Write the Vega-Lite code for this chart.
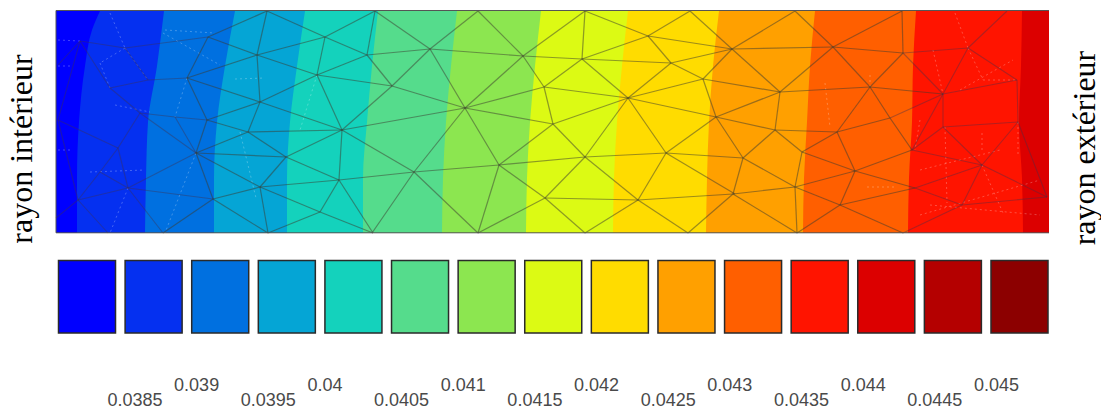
{
"$schema":"https://vega.github.io/schema/vega-lite/v6.json",
"width":1101,"height":419,
"autosize":{"type":"fit","contains":"padding"},
"padding":0,
"background":"white",
"config":{"view":{"stroke":null}},
"datasets":{
"bands":[
{"level":0.038,"z":11,"r":56,"end":1049},{"level":0.038,"z":233,"r":56,"end":1049},
{"level":0.0385,"z":11,"r":100,"end":1049},{"level":0.0385,"z":30,"r":92,"end":1049},{"level":0.0385,"z":66,"r":85,"end":1049},{"level":0.0385,"z":122,"r":79,"end":1049},{"level":0.0385,"z":178,"r":77,"end":1049},{"level":0.0385,"z":233,"r":77,"end":1049},
{"level":0.039,"z":11,"r":164,"end":1049},{"level":0.039,"z":66,"r":157,"end":1049},{"level":0.039,"z":122,"r":148,"end":1049},{"level":0.039,"z":178,"r":146,"end":1049},{"level":0.039,"z":233,"r":145,"end":1049},
{"level":0.0395,"z":11,"r":235,"end":1049},{"level":0.0395,"z":66,"r":225,"end":1049},{"level":0.0395,"z":122,"r":217,"end":1049},{"level":0.0395,"z":178,"r":214,"end":1049},{"level":0.0395,"z":233,"r":214,"end":1049},
{"level":0.04,"z":11,"r":305,"end":1049},{"level":0.04,"z":66,"r":297,"end":1049},{"level":0.04,"z":122,"r":290,"end":1049},{"level":0.04,"z":178,"r":287,"end":1049},{"level":0.04,"z":233,"r":287,"end":1049},
{"level":0.0405,"z":11,"r":378,"end":1049},{"level":0.0405,"z":66,"r":372,"end":1049},{"level":0.0405,"z":122,"r":367,"end":1049},{"level":0.0405,"z":178,"r":363,"end":1049},{"level":0.0405,"z":233,"r":363,"end":1049},
{"level":0.041,"z":11,"r":457,"end":1049},{"level":0.041,"z":66,"r":451,"end":1049},{"level":0.041,"z":122,"r":446,"end":1049},{"level":0.041,"z":178,"r":443,"end":1049},{"level":0.041,"z":233,"r":442,"end":1049},
{"level":0.0415,"z":11,"r":541,"end":1049},{"level":0.0415,"z":66,"r":535,"end":1049},{"level":0.0415,"z":122,"r":530,"end":1049},{"level":0.0415,"z":178,"r":527,"end":1049},{"level":0.0415,"z":233,"r":526,"end":1049},
{"level":0.042,"z":11,"r":628,"end":1049},{"level":0.042,"z":66,"r":622,"end":1049},{"level":0.042,"z":122,"r":617,"end":1049},{"level":0.042,"z":178,"r":614,"end":1049},{"level":0.042,"z":233,"r":613,"end":1049},
{"level":0.0425,"z":11,"r":719,"end":1049},{"level":0.0425,"z":66,"r":713,"end":1049},{"level":0.0425,"z":122,"r":709,"end":1049},{"level":0.0425,"z":178,"r":707,"end":1049},{"level":0.0425,"z":233,"r":706,"end":1049},
{"level":0.043,"z":11,"r":815,"end":1049},{"level":0.043,"z":66,"r":810,"end":1049},{"level":0.043,"z":122,"r":807,"end":1049},{"level":0.043,"z":178,"r":804,"end":1049},{"level":0.043,"z":233,"r":803,"end":1049},
{"level":0.0435,"z":11,"r":916,"end":1049},{"level":0.0435,"z":66,"r":913,"end":1049},{"level":0.0435,"z":122,"r":912,"end":1049},{"level":0.0435,"z":178,"r":909,"end":1049},{"level":0.0435,"z":233,"r":908,"end":1049},
{"level":0.044,"z":11,"r":1022,"end":1049},{"level":0.044,"z":66,"r":1021,"end":1049},{"level":0.044,"z":122,"r":1019,"end":1049},{"level":0.044,"z":178,"r":1022,"end":1049},{"level":0.044,"z":233,"r":1023,"end":1049}
],
"mesh":[
{"r":267,"z":11,"r2":257,"z2":55},{"r":267,"z":11,"r2":208,"z2":37},{"r":267,"z":11,"r2":325,"z2":37},{"r":325,"z":37,"r2":375,"z2":11},{"r":325,"z":37,"r2":257,"z2":55},{"r":325,"z":37,"r2":367,"z2":55},{"r":325,"z":37,"r2":317,"z2":75},{"r":367,"z":55,"r2":375,"z2":11},{"r":367,"z":55,"r2":392,"z2":86},{"r":367,"z":55,"r2":430,"z2":49},{"r":367,"z":55,"r2":317,"z2":75},{"r":375,"z":11,"r2":430,"z2":49},{"r":430,"z":49,"r2":478,"z2":11},{"r":430,"z":49,"r2":392,"z2":86},{"r":430,"z":49,"r2":465,"z2":108},{"r":430,"z":49,"r2":523,"z2":56},{"r":392,"z":86,"r2":465,"z2":108},{"r":392,"z":86,"r2":317,"z2":75},{"r":392,"z":86,"r2":342,"z2":130},{"r":478,"z":11,"r2":523,"z2":56},{"r":523,"z":56,"r2":465,"z2":108},{"r":523,"z":56,"r2":585,"z2":11},{"r":523,"z":56,"r2":582,"z2":59},{"r":523,"z":56,"r2":544,"z2":87},{"r":582,"z":59,"r2":585,"z2":11},{"r":582,"z":59,"r2":544,"z2":87},{"r":582,"z":59,"r2":648,"z2":36},{"r":582,"z":59,"r2":628,"z2":98},{"r":582,"z":59,"r2":671,"z2":63},{"r":585,"z":11,"r2":648,"z2":36},{"r":648,"z":36,"r2":690,"z2":11},{"r":648,"z":36,"r2":671,"z2":63},{"r":648,"z":36,"r2":732,"z2":49},{"r":690,"z":11,"r2":732,"z2":49},{"r":671,"z":63,"r2":732,"z2":49},{"r":671,"z":63,"r2":628,"z2":98},{"r":671,"z":63,"r2":703,"z2":79},{"r":732,"z":49,"r2":703,"z2":79},{"r":703,"z":79,"r2":628,"z2":98},{"r":703,"z":79,"r2":716,"z2":117},{"r":628,"z":98,"r2":544,"z2":87},{"r":628,"z":98,"r2":553,"z2":124},{"r":628,"z":98,"r2":716,"z2":117},{"r":628,"z":98,"r2":585,"z2":157},{"r":628,"z":98,"r2":666,"z2":153},{"r":465,"z":108,"r2":544,"z2":87},{"r":465,"z":108,"r2":553,"z2":124},{"r":465,"z":108,"r2":342,"z2":130},{"r":465,"z":108,"r2":414,"z2":172},{"r":465,"z":108,"r2":499,"z2":165},{"r":544,"z":87,"r2":553,"z2":124},{"r":553,"z":124,"r2":499,"z2":165},{"r":553,"z":124,"r2":585,"z2":157},{"r":585,"z":157,"r2":499,"z2":165},{"r":585,"z":157,"r2":545,"z2":198},{"r":585,"z":157,"r2":666,"z2":153},{"r":585,"z":157,"r2":638,"z2":200},{"r":666,"z":153,"r2":716,"z2":117},{"r":666,"z":153,"r2":638,"z2":200},{"r":666,"z":153,"r2":735,"z2":194},{"r":666,"z":153,"r2":743,"z2":158},{"r":716,"z":117,"r2":780,"z2":92},{"r":716,"z":117,"r2":775,"z2":130},{"r":716,"z":117,"r2":743,"z2":158},{"r":732,"z":49,"r2":833,"z2":47},{"r":732,"z":49,"r2":780,"z2":92},{"r":703,"z":79,"r2":780,"z2":92},{"r":732,"z":49,"r2":795,"z2":11},{"r":795,"z":11,"r2":833,"z2":47},{"r":833,"z":47,"r2":902,"z2":11},{"r":833,"z":47,"r2":780,"z2":92},{"r":833,"z":47,"r2":870,"z2":87},{"r":833,"z":47,"r2":903,"z2":53},{"r":902,"z":11,"r2":903,"z2":53},{"r":903,"z":53,"r2":870,"z2":87},{"r":780,"z":92,"r2":870,"z2":87},{"r":780,"z":92,"r2":775,"z2":130},{"r":870,"z":87,"r2":943,"z2":94},{"r":870,"z":87,"r2":837,"z2":132},{"r":870,"z":87,"r2":890,"z2":118},{"r":775,"z":130,"r2":837,"z2":132},{"r":775,"z":130,"r2":743,"z2":158},{"r":775,"z":130,"r2":802,"z2":152},{"r":837,"z":132,"r2":802,"z2":152},{"r":837,"z":132,"r2":855,"z2":171},{"r":837,"z":132,"r2":890,"z2":118},{"r":890,"z":118,"r2":912,"z2":150},{"r":855,"z":171,"r2":912,"z2":150},{"r":855,"z":171,"r2":802,"z2":152},{"r":855,"z":171,"r2":795,"z2":187},{"r":855,"z":171,"r2":840,"z2":205},{"r":802,"z":152,"r2":795,"z2":187},{"r":795,"z":187,"r2":797,"z2":233},{"r":795,"z":187,"r2":733,"z2":194},{"r":743,"z":158,"r2":733,"z2":194},{"r":743,"z":158,"r2":795,"z2":187},{"r":733,"z":194,"r2":638,"z2":200},{"r":733,"z":194,"r2":688,"z2":233},{"r":638,"z":200,"r2":688,"z2":233},{"r":638,"z":200,"r2":585,"z2":233},{"r":638,"z":200,"r2":545,"z2":198},{"r":545,"z":198,"r2":585,"z2":233},{"r":545,"z":198,"r2":499,"z2":165},{"r":545,"z":198,"r2":478,"z2":233},{"r":499,"z":165,"r2":478,"z2":233},{"r":499,"z":165,"r2":414,"z2":172},{"r":414,"z":172,"r2":478,"z2":233},{"r":414,"z":172,"r2":372,"z2":233},{"r":414,"z":172,"r2":339,"z2":180},{"r":414,"z":172,"r2":342,"z2":130},{"r":795,"z":187,"r2":840,"z2":205},{"r":840,"z":205,"r2":797,"z2":233},{"r":840,"z":205,"r2":903,"z2":233},{"r":840,"z":205,"r2":915,"z2":188},{"r":855,"z":171,"r2":915,"z2":188},{"r":733,"z":194,"r2":797,"z2":233},{"r":342,"z":130,"r2":339,"z2":180},{"r":342,"z":130,"r2":317,"z2":75},{"r":342,"z":130,"r2":286,"z2":157},{"r":342,"z":130,"r2":260,"z2":102},{"r":342,"z":130,"r2":248,"z2":132},{"r":339,"z":180,"r2":286,"z2":157},{"r":339,"z":180,"r2":260,"z2":187},{"r":339,"z":180,"r2":320,"z2":212},{"r":339,"z":180,"r2":373,"z2":233},{"r":320,"z":212,"r2":260,"z2":187},{"r":320,"z":212,"r2":268,"z2":233},{"r":320,"z":212,"r2":373,"z2":233},{"r":286,"z":157,"r2":260,"z2":187},{"r":286,"z":157,"r2":248,"z2":132},{"r":286,"z":157,"r2":196,"z2":153},{"r":260,"z":187,"r2":268,"z2":233},{"r":260,"z":187,"r2":213,"z2":199},{"r":260,"z":187,"r2":196,"z2":153},{"r":213,"z":199,"r2":268,"z2":233},{"r":213,"z":199,"r2":163,"z2":233},{"r":213,"z":199,"r2":196,"z2":153},{"r":248,"z":132,"r2":196,"z2":153},{"r":248,"z":132,"r2":260,"z2":102},{"r":248,"z":132,"r2":207,"z2":120},{"r":260,"z":102,"r2":257,"z2":55},{"r":260,"z":102,"r2":317,"z2":75},{"r":260,"z":102,"r2":187,"z2":78},{"r":260,"z":102,"r2":207,"z2":120},{"r":257,"z":55,"r2":317,"z2":75},{"r":257,"z":55,"r2":208,"z2":37},{"r":257,"z":55,"r2":187,"z2":78},{"r":208,"z":37,"r2":187,"z2":78},{"r":187,"z":78,"r2":207,"z2":120},{"r":207,"z":120,"r2":196,"z2":153}
],
"meshFaint":[
{"r":58,"z":65,"r2":80,"z2":41},{"r":80,"z":41,"r2":125,"z2":48},{"r":125,"z":48,"r2":148,"z2":80},{"r":110,"z":88,"r2":140,"z2":113},{"r":110,"z":88,"r2":148,"z2":80},{"r":80,"z":41,"r2":110,"z2":88},{"r":58,"z":120,"r2":80,"z2":41},{"r":58,"z":120,"r2":118,"z2":148},{"r":58,"z":120,"r2":78,"z2":200},{"r":78,"z":200,"r2":100,"z2":172},{"r":100,"z":172,"r2":118,"z2":148},{"r":100,"z":172,"r2":128,"z2":188},{"r":78,"z":200,"r2":128,"z2":188},{"r":128,"z":188,"r2":163,"z2":233},{"r":118,"z":148,"r2":140,"z2":113},{"r":118,"z":148,"r2":128,"z2":188},{"r":140,"z":113,"r2":175,"z2":117},{"r":148,"z":80,"r2":187,"z2":78},{"r":78,"z":200,"r2":108,"z2":233},{"r":56,"z":218,"r2":78,"z2":200},{"r":128,"z":188,"r2":196,"z2":153},{"r":128,"z":188,"r2":213,"z2":199},{"r":175,"z":117,"r2":207,"z2":120},{"r":196,"z":153,"r2":175,"z2":117},{"r":140,"z":113,"r2":196,"z2":153},{"r":125,"z":48,"r2":208,"z2":37},
{"r":903,"z":53,"r2":968,"z2":48},{"r":968,"z":48,"r2":943,"z2":94},{"r":968,"z":48,"r2":1007,"z2":11},{"r":968,"z":48,"r2":1017,"z2":80},{"r":943,"z":94,"r2":943,"z2":127},{"r":943,"z":94,"r2":1017,"z2":80},{"r":943,"z":127,"r2":1018,"z2":122},{"r":943,"z":127,"r2":982,"z2":165},{"r":943,"z":127,"r2":912,"z2":150},{"r":982,"z":165,"r2":912,"z2":150},{"r":982,"z":165,"r2":1018,"z2":122},{"r":982,"z":165,"r2":962,"z2":205},{"r":982,"z":165,"r2":1047,"z2":197},{"r":962,"z":205,"r2":915,"z2":188},{"r":962,"z":205,"r2":1047,"z2":197},{"r":962,"z":205,"r2":903,"z2":233},{"r":982,"z":165,"r2":915,"z2":188},{"r":1018,"z":122,"r2":1017,"z2":80},{"r":1018,"z":122,"r2":1047,"z2":197},{"r":890,"z":118,"r2":943,"z2":94},{"r":912,"z":150,"r2":943,"z2":94},{"r":903,"z":53,"r2":943,"z2":94}
],
"meshPale":[
{"r":110,"z":13,"r2":125,"z2":48},{"r":125,"z":48,"r2":148,"z2":80},{"r":125,"z":48,"r2":100,"z2":63},{"r":100,"z":63,"r2":110,"z2":88},{"r":128,"z":188,"r2":110,"z2":233},{"r":187,"z":78,"r2":175,"z2":117},{"r":163,"z":33,"r2":220,"z2":65},{"r":196,"z":153,"r2":165,"z2":233},{"r":58,"z":40,"r2":80,"z2":41},{"r":58,"z":66,"r2":72,"z2":66},{"r":58,"z":150,"r2":72,"z2":150},{"r":235,"z":79,"r2":265,"z2":78},{"r":317,"z":75,"r2":300,"z2":130},{"r":240,"z":132,"r2":256,"z2":198},{"r":115,"z":105,"r2":150,"z2":112},{"r":90,"z":172,"r2":145,"z2":170},{"r":165,"z":30,"r2":215,"z2":33},
{"r":955,"z":13,"r2":968,"z2":48},{"r":968,"z":48,"r2":983,"z2":80},{"r":983,"z":80,"r2":1017,"z2":80},{"r":933,"z":50,"r2":943,"z2":94},{"r":982,"z":165,"r2":1003,"z2":213},{"r":1018,"z":122,"r2":1018,"z2":157},{"r":960,"z":90,"r2":1013,"z2":60},{"r":982,"z":133,"r2":982,"z2":150},{"r":825,"z":83,"r2":830,"z2":127},{"r":870,"z":75,"r2":870,"z2":87},{"r":867,"z":187,"r2":897,"z2":187},{"r":945,"z":127,"r2":947,"z2":203},{"r":920,"z":120,"r2":915,"z2":150},{"r":920,"z":170,"r2":1000,"z2":150},{"r":920,"z":215,"r2":1040,"z2":180},{"r":930,"z":205,"r2":1040,"z2":215}
],
"frame":[
{"r":56,"z":10.5,"r2":1049,"z2":10.5},{"r":56,"z":232.8,"r2":1049,"z2":232.8},{"r":56,"z":10.5,"r2":56,"z2":232.8}
],
"swatches":[{"level":0.038},{"level":0.0385},{"level":0.039},{"level":0.0395},{"level":0.04},{"level":0.0405},{"level":0.041},{"level":0.0415},{"level":0.042},{"level":0.0425},{"level":0.043},{"level":0.0435},{"level":0.044},{"level":0.0445},{"level":0.045}],
"ticks":[
{"value":0.0385,"label":"0.0385","tier":2},{"value":0.039,"label":"0.039","tier":1},{"value":0.0395,"label":"0.0395","tier":2},{"value":0.04,"label":"0.04","tier":1},{"value":0.0405,"label":"0.0405","tier":2},{"value":0.041,"label":"0.041","tier":1},{"value":0.0415,"label":"0.0415","tier":2},{"value":0.042,"label":"0.042","tier":1},{"value":0.0425,"label":"0.0425","tier":2},{"value":0.043,"label":"0.043","tier":1},{"value":0.0435,"label":"0.0435","tier":2},{"value":0.044,"label":"0.044","tier":1},{"value":0.0445,"label":"0.0445","tier":2},{"value":0.045,"label":"0.045","tier":1}
],
"sides":[{"label":"rayon intérieur","r":32,"z":149},{"label":"rayon extérieur","r":1095,"z":148}]
},
"layer":[
{"data":{"name":"bands"},"mark":{"type":"area","orient":"horizontal","interpolate":"monotone"},
 "encoding":{
  "y":{"field":"z","type":"quantitative","scale":{"domain":[419,0],"nice":false,"zero":false},"axis":null},
  "x":{"field":"r","type":"quantitative","scale":{"domain":[0,1101],"nice":false,"zero":false},"axis":null},
  "x2":{"field":"end"},
  "color":{"field":"level","type":"ordinal","legend":null,"scale":{"domain":[0.038,0.0385,0.039,0.0395,0.04,0.0405,0.041,0.0415,0.042,0.0425,0.043,0.0435,0.044,0.0445,0.045],"range":["#0000ff","#0530f0","#0070e0","#05a5d5","#14d2bc","#55dc8c","#8ce650","#dcfa14","#ffdc00","#ffa000","#ff5f00","#ff1400","#dc0000","#b40000","#8c0000"]}},
  "order":{"field":"level"}
 }},
{"data":{"name":"meshPale"},"mark":{"type":"rule","stroke":"#ffffff","strokeWidth":1,"opacity":0.25,"strokeDash":[2,3]},
 "encoding":{"x":{"field":"r","type":"quantitative","scale":{"domain":[0,1101],"nice":false,"zero":false},"axis":null},"x2":{"field":"r2"},"y":{"field":"z","type":"quantitative","scale":{"domain":[419,0],"nice":false,"zero":false},"axis":null},"y2":{"field":"z2"}}},
{"data":{"name":"meshFaint"},"mark":{"type":"rule","stroke":"#40304a","strokeWidth":1.1,"opacity":0.4},
 "encoding":{"x":{"field":"r","type":"quantitative","scale":{"domain":[0,1101],"nice":false,"zero":false},"axis":null},"x2":{"field":"r2"},"y":{"field":"z","type":"quantitative","scale":{"domain":[419,0],"nice":false,"zero":false},"axis":null},"y2":{"field":"z2"}}},
{"data":{"name":"mesh"},"mark":{"type":"rule","stroke":"#3c3c30","strokeWidth":1.2,"opacity":0.5},
 "encoding":{"x":{"field":"r","type":"quantitative","scale":{"domain":[0,1101],"nice":false,"zero":false},"axis":null},"x2":{"field":"r2"},"y":{"field":"z","type":"quantitative","scale":{"domain":[419,0],"nice":false,"zero":false},"axis":null},"y2":{"field":"z2"}}},
{"data":{"name":"frame"},"mark":{"type":"rule","stroke":"#555555","strokeWidth":1},
 "encoding":{"x":{"field":"r","type":"quantitative","scale":{"domain":[0,1101],"nice":false,"zero":false},"axis":null},"x2":{"field":"r2"},"y":{"field":"z","type":"quantitative","scale":{"domain":[419,0],"nice":false,"zero":false},"axis":null},"y2":{"field":"z2"}}},
{"data":{"name":"swatches"},"mark":{"type":"rect","stroke":"#2a2a2a","strokeWidth":1.5},
 "encoding":{
  "x":{"field":"level","type":"ordinal","axis":null,"scale":{"range":[58.5,1048],"paddingInner":0.144,"paddingOuter":0}},
  "y":{"datum":260.5,"type":"quantitative","scale":{"domain":[419,0],"nice":false,"zero":false},"axis":null},
  "y2":{"datum":333},
  "color":{"field":"level","type":"ordinal","legend":null}
 }},
{"data":{"name":"ticks"},"mark":{"type":"text","font":"Liberation Sans","fontSize":18,"align":"left","baseline":"alphabetic","fill":"#4a4a4a"},
 "encoding":{
  "x":{"field":"value","type":"quantitative","axis":null,"scale":{"domain":[0.037694,0.045953],"nice":false,"zero":false}},
  "y":{"field":"tier","type":"ordinal","axis":null,"scale":{"domain":[1,2],"range":[383.5,413.5]}},
  "text":{"field":"label"}
 }},
{"data":{"name":"sides"},"mark":{"type":"text","font":"Liberation Serif","fontSize":32,"angle":270,"align":"center","baseline":"alphabetic","fill":"#000000"},
 "encoding":{
  "x":{"field":"r","type":"quantitative","scale":{"domain":[0,1101],"nice":false,"zero":false},"axis":null},
  "y":{"field":"z","type":"quantitative","scale":{"domain":[419,0],"nice":false,"zero":false},"axis":null},
  "text":{"field":"label"}
 }}
],
"resolve":{"scale":{"x":"independent","y":"independent"}}
}
